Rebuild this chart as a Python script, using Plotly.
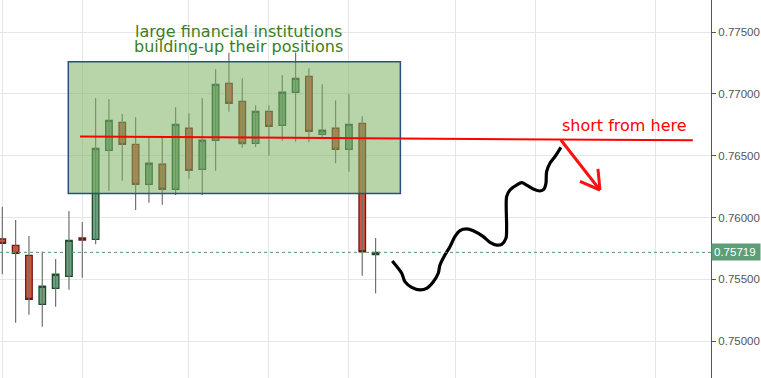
import plotly.graph_objects as go

# ---------------- data ----------------
candle_index = list(range(29))
opens = [0.75827, 0.75776, 0.75695, 0.75299, 0.75428, 0.75525, 0.75835, 0.75824,
         0.76544, 0.76770, 0.76592, 0.76269, 0.76431, 0.76229, 0.76722, 0.76390,
         0.76625, 0.77085, 0.76940, 0.76600, 0.76859, 0.76746, 0.77013, 0.77142,
         0.76673, 0.76722, 0.76552, 0.76762, 0.75700]
highs = [0.76088, 0.75980, 0.75851, 0.75724, 0.75665, 0.76053, 0.75964, 0.76964,
         0.76959, 0.76837, 0.76811, 0.76646, 0.76646, 0.76891, 0.76843, 0.76964,
         0.77199, 0.77333, 0.77126, 0.76908, 0.76908, 0.77153, 0.77333, 0.77207,
         0.77077, 0.76948, 0.76999, 0.76819, 0.75835]
lows = [0.75542, 0.75150, 0.75215, 0.75118, 0.75280, 0.75417, 0.75514, 0.75784,
        0.76217, 0.76298, 0.76061, 0.76120, 0.76104, 0.76183, 0.76314, 0.76183,
        0.76379, 0.76856, 0.76565, 0.76570, 0.76500, 0.76621, 0.76613, 0.76609,
        0.76649, 0.76439, 0.76371, 0.75530, 0.75388]
closes = [0.75792, 0.75711, 0.75339, 0.75445, 0.75542, 0.75816, 0.75819, 0.76560,
          0.76786, 0.76592, 0.76269, 0.76439, 0.76229, 0.76754, 0.76382, 0.76625,
          0.77077, 0.76924, 0.76597, 0.76859, 0.76738, 0.77013, 0.77126, 0.76697,
          0.76706, 0.76552, 0.76754, 0.75724, 0.75719]
last_price = 0.75719

y_ticks = [0.750, 0.755, 0.760, 0.765, 0.770, 0.775]
y_tick_labels = ["0.75000", "0.75500", "0.76000", "0.76500", "0.77000", "0.77500"]
x_grid = [0, 6, 14, 20, 26, 34, 40, 49]

# accumulation zone (time index, price)
zone_x = [4.95, 29.86]
zone_y = [0.76195, 0.77259]

# hand-drawn resistance line and arrow (time index, price)
level_x = [5.83, 51.80]
level_y = [0.76655, 0.76625]
arrow_x = [41.90, 44.83]
arrow_y = [0.76627, 0.76223]
head_left = [43.33, 0.76292]
head_right = [44.68, 0.76393]

# hand-drawn projected path (time index, price)
path_x = [29.25, 29.96, 30.20, 30.71, 31.33, 31.83, 32.33, 32.70, 32.83, 33.20,
          33.58, 33.95, 34.33, 34.83, 35.33, 36.08, 36.58, 37.08, 37.46, 37.78,
          37.83, 37.83, 38.08, 38.58, 38.96, 39.33, 39.83, 40.33, 40.63, 40.78,
          40.83, 41.08, 41.45, 41.90]
path_y = [0.75649, 0.75550, 0.75482, 0.75436, 0.75415, 0.75428, 0.75482, 0.75550,
          0.75617, 0.75698, 0.75765, 0.75846, 0.75894, 0.75908, 0.75894, 0.75846,
          0.75800, 0.75778, 0.75784, 0.75833, 0.75926, 0.76169, 0.76223, 0.76263,
          0.76282, 0.76263, 0.76231, 0.76215, 0.76229, 0.76277, 0.76371, 0.76439,
          0.76492, 0.76568]

# ---------------- figure ----------------
wick_x, wick_y = [], []
for i, lo, hi in zip(candle_index, lows, highs):
    wick_x += [i, i, None]
    wick_y += [lo, hi, None]

body_hi = [max(o, c) for o, c in zip(opens, closes)]
body_lo = [min(o, c) for o, c in zip(opens, closes)]

fig = go.Figure()
fig.add_trace(go.Scatter(x=wick_x, y=wick_y, mode="lines",
                         line=dict(color="#707070", width=1.2),
                         hoverinfo="skip", showlegend=False))
fig.add_trace(go.Candlestick(
    x=candle_index, open=opens, high=body_hi, low=body_lo, close=closes,
    increasing=dict(fillcolor="#69a57d", line=dict(color="#1f4b2d", width=1.3)),
    decreasing=dict(fillcolor="#d9523f", line=dict(color="#6e1812", width=1.3)),
    showlegend=False))
fig.add_trace(go.Scatter(x=path_x, y=path_y, mode="lines",
                         line=dict(color="black", width=3.2, shape="spline", smoothing=0.8),
                         hoverinfo="skip", showlegend=False))

shapes = [
    dict(type="line", xref="paper", x0=0, x1=1, yref="y", y0=last_price, y1=last_price,
         line=dict(color="#4f9a6e", width=1, dash="dot"), layer="above"),
    dict(type="rect", xref="x", yref="y", x0=zone_x[0], x1=zone_x[1], y0=zone_y[0], y1=zone_y[1],
         fillcolor="rgba(125,179,98,0.55)", line=dict(color="#2b4f80", width=1.5), layer="above"),
    dict(type="line", xref="x", yref="y", x0=level_x[0], x1=level_x[1], y0=level_y[0], y1=level_y[1],
         line=dict(color="#ff0000", width=2), layer="above"),
    dict(type="line", xref="x", yref="y", x0=arrow_x[0], x1=arrow_x[1], y0=arrow_y[0], y1=arrow_y[1],
         line=dict(color="#ff1010", width=3), layer="above"),
    dict(type="line", xref="x", yref="y", x0=head_left[0], x1=arrow_x[1], y0=head_left[1], y1=arrow_y[1],
         line=dict(color="#ff1010", width=3), layer="above"),
    dict(type="line", xref="x", yref="y", x0=head_right[0], x1=arrow_x[1], y0=head_right[1], y1=arrow_y[1],
         line=dict(color="#ff1010", width=3), layer="above"),
]

annotations = [
    dict(x=17.75, y=0.77508, xref="x", yref="y", text="large financial institutions",
         showarrow=False, font=dict(family="DejaVu Sans", size=16, color="#3b7d22")),
    dict(x=17.75, y=0.77379, xref="x", yref="y", text="building-up their positions",
         showarrow=False, font=dict(family="DejaVu Sans", size=16, color="#3b7d22")),
    dict(x=46.64, y=0.76748, xref="x", yref="y", text="short from here",
         showarrow=False, font=dict(family="DejaVu Sans", size=16, color="#ff0000")),
    dict(x=1, xref="paper", xanchor="left", y=last_price, yref="y", text="0.75719",
         showarrow=False, bgcolor="#5d9e78", borderpad=2, width=44, align="left",
         font=dict(family="Liberation Sans", size=11.5, color="white")),
]

fig.update_layout(
    width=761, height=378,
    margin=dict(l=0, r=50, t=0, b=0),
    paper_bgcolor="white", plot_bgcolor="white",
    shapes=shapes, annotations=annotations,
    showlegend=False, hovermode=False,
    xaxis=dict(range=[-0.1725, 53.16], tickvals=x_grid, showticklabels=False, ticks="",
               showgrid=True, gridcolor="#e6e6e6", gridwidth=1.2, zeroline=False,
               showline=False, rangeslider=dict(visible=False), fixedrange=True),
    yaxis=dict(side="right", range=[0.747034, 0.777587], tickvals=y_ticks, ticktext=y_tick_labels,
               showgrid=True, gridcolor="#e6e6e6", gridwidth=1.2, zeroline=False,
               showline=True, linecolor="#555555", linewidth=1,
               ticks="outside", ticklen=4, tickcolor="#555555",
               tickfont=dict(family="Liberation Sans", size=11.5, color="#555555"),
               fixedrange=True),
)

fig.write_html("out.html", config={"displayModeBar": False},
               post_script="document.body.style.margin='0';document.body.style.overflow='hidden';")
